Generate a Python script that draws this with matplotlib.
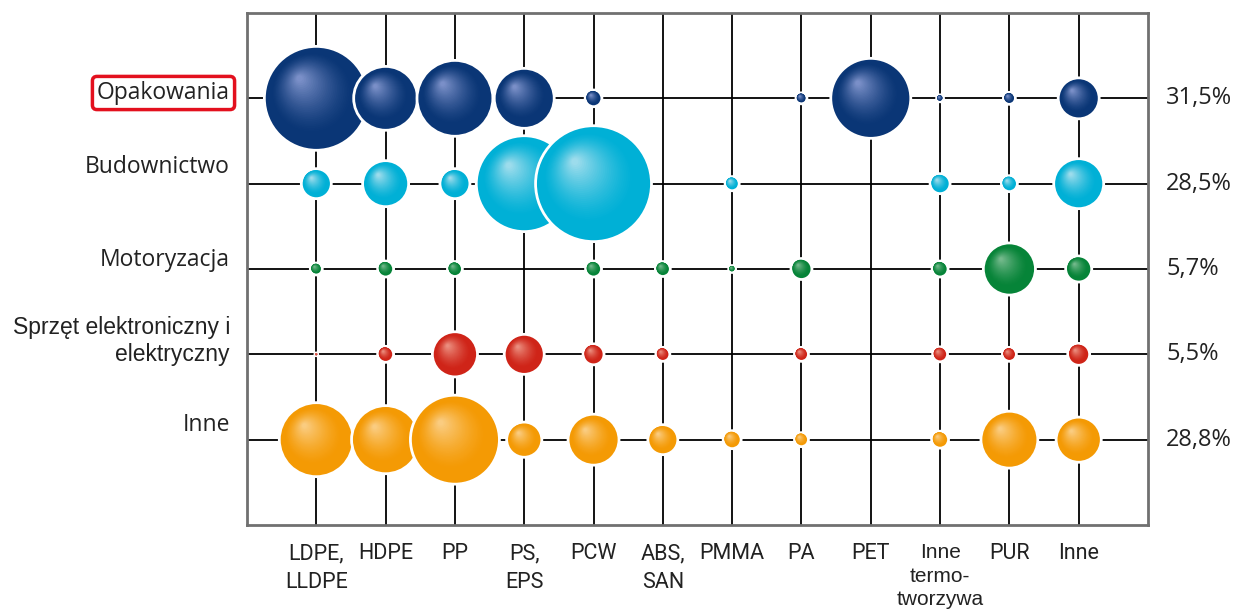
import numpy as np
import matplotlib.pyplot as plt
from matplotlib.patches import Ellipse
from matplotlib.colors import to_rgb

sectors = ["Opakowania", "Budownictwo", "Motoryzacja",
           "Sprzęt elektroniczny i\nelektryczny", "Inne"]
sector_share = ["31,5%", "28,5%", "5,7%", "5,5%", "28,8%"]
materials = ["LDPE,\nLLDPE", "HDPE", "PP", "PS,\nEPS", "PCW", "ABS,\nSAN",
             "PMMA", "PA", "PET", "Inne\ntermo-\ntworzywa", "PUR", "Inne"]

# wielkość zapotrzebowania (jednostki względne, proporcjonalne do pola koła)
opakowania   = [27.0, 10.2, 14.4, 9.0, 0.7, 0, 0, 0.3, 16.0, 0.12, 0.36, 4.2]
budownictwo  = [2.25, 5.3, 2.25, 23.0, 33.6, 0, 0.5, 0, 0, 1.0, 0.64, 6.25]
motoryzacja  = [0.36, 0.64, 0.56, 0, 0.64, 0.56, 0.12, 1.1, 0, 0.64, 6.8, 1.7]
elektronika  = [0.02, 0.64, 5.1, 4.0, 1.1, 0.49, 0, 0.49, 0, 0.56, 0.49, 1.2]
inne         = [13.7, 11.6, 19.8, 3.1, 6.5, 2.25, 0.81, 0.49, 0, 0.72, 8.1, 5.1]
rows = [opakowania, budownictwo, motoryzacja, elektronika, inne]

colors = [("#0a3676", "#8e9fd6"), ("#00b0d6", "#b8e4f0"), ("#068438", "#86c29a"),
          ("#cf2418", "#f0a090"), ("#f49a04", "#fbd596")]

W, H = 1253, 612
fig = plt.figure(figsize=(W / 100, H / 100), dpi=100)
ax_l, ax_r, ax_t, ax_b = 247, 1148, 13, 525
ax = fig.add_axes([ax_l / W, 1 - ax_b / H, (ax_r - ax_l) / W, (ax_b - ax_t) / H])
ax.set_xlim(-1, 12)
ax.set_ylim(5, -1)
ax.set_xticks([])
ax.set_yticks([])
for s in ax.spines.values():
    s.set_color("#707070")
    s.set_linewidth(2)

for i in range(12):
    ax.axvline(i, color="black", lw=1.3, zorder=1)
for j in range(5):
    ax.axhline(j, color="black", lw=1.3, zorder=1)

# px -> jednostki danych
sx = 13 / (ax_r - ax_l)
sy = 6 / (ax_b - ax_t)


def sphere(x, y, r, base, light, z):
    base = np.array(to_rgb(base))
    light = np.array(to_rgb(light))
    ax.add_patch(Ellipse((x, y), 2 * r * sx, 2 * r * sy, fc=base, ec="white",
                         lw=2, zorder=z))
    n = 30
    for k in range(n):
        t = k / (n - 1)
        rad = r * (0.78 - 0.72 * t)
        cx = x - r * (0.08 + 0.24 * t) * sx
        cy = y - r * (0.1 + 0.28 * t) * sy
        f = t ** 1.4
        col = base + (light - base) * f * 0.85
        ax.add_patch(Ellipse((cx, cy), 2 * rad * sx, 2 * rad * sy, fc=col,
                             ec="none", zorder=z + (k + 1) * 1e-3))


z = 2
for j, vals in enumerate(rows):
    for i, v in enumerate(vals):
        if v <= 0:
            continue
        sphere(i, j, 10 * np.sqrt(v), *colors[j], z)
        z += 0.1

label_font = ["Open Sans", "DejaVu Sans"]
ypix = [93, 167, 260, 341, 425]
for j, name in enumerate(sectors):
    fam = ["Liberation Sans", "DejaVu Sans"] if j == 3 else label_font
    kw = {}
    if j == 0:
        kw["bbox"] = dict(boxstyle="round,pad=0.2,rounding_size=0.2",
                          fc="white", ec="#e3101e", lw=2.5)
    fig.text(230 / W, 1 - ypix[j] / H, name, ha="right", va="center",
             fontsize=16.5, family=fam, color="#222222",
             linespacing=1.2, **kw)

for j, p in enumerate(sector_share):
    fig.text(1166 / W, 1 - (ax_t + (j + 1) * (ax_b - ax_t) / 6) / H, p,
             ha="left", va="center", fontsize=17, family=label_font,
             color="#222222")

for i, m in enumerate(materials):
    if i == 9:
        fam, fs, ls = ["Liberation Sans", "DejaVu Sans"], 15, 1.3
    else:
        fam, fs, ls = ["Roboto", "DejaVu Sans"], 15.5, 1.5
    fig.text((ax_l + (i + 1) * (ax_r - ax_l) / 13) / W, 1 - 543 / H, m,
             ha="center", va="top", fontsize=fs, family=fam, color="#222222",
             linespacing=ls)

fig.savefig("out.png", dpi=100, facecolor="white")
